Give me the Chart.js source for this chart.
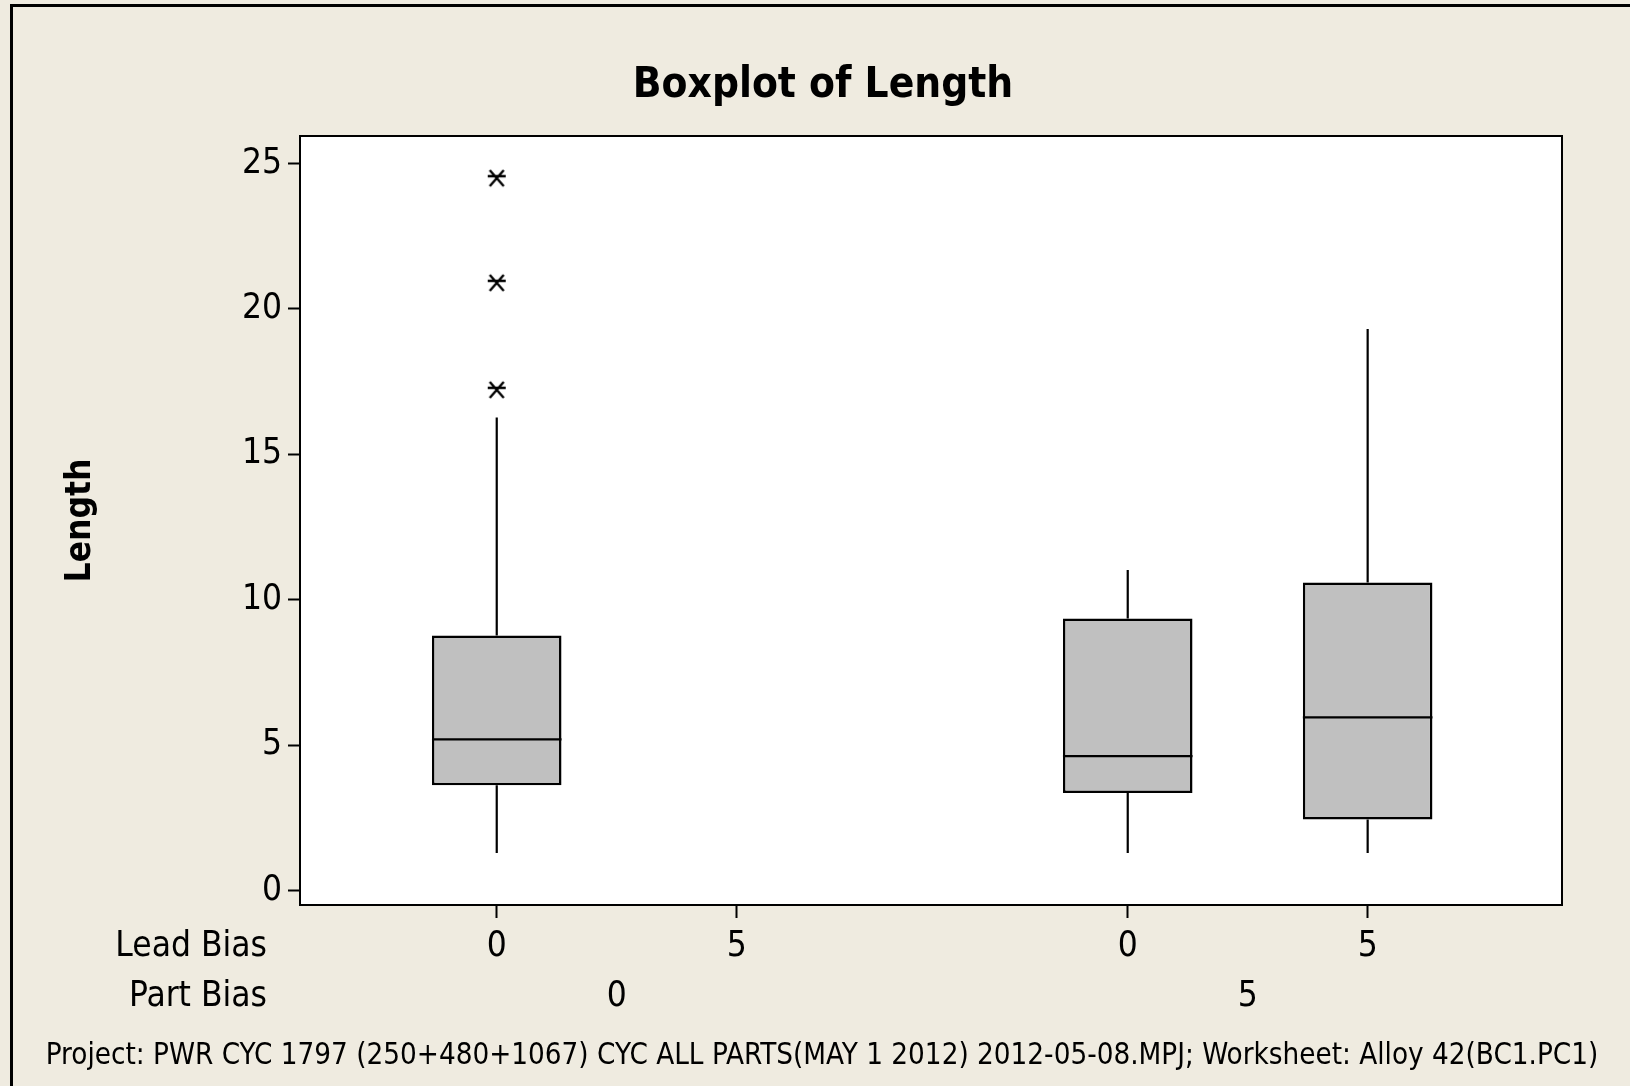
<!DOCTYPE html>
<html>
<head>
<meta charset="utf-8">
<title>Boxplot of Length</title>
<script src="https://cdn.jsdelivr.net/npm/chart.js@4.4.1/dist/chart.umd.min.js"></script>
<style>
  html, body { margin: 0; padding: 0; background: #EFEBE0; }
  canvas { display: block; }
</style>
</head>
<body>
<canvas id="boxplot" width="1630" height="1086"></canvas>
<script>
// data
const partBias = ["0", "5"];
const leadBias = ["0", "5"];
const whiskerLow = [1.29, null, 1.29, 1.29];
const q1 = [3.62, null, 3.35, 2.44];
const median = [5.20, null, 4.62, 5.95];
const q3 = [8.77, null, 9.35, 10.59];
const whiskerHigh = [16.27, null, 11.02, 19.31];
const outliers = [[24.50, 20.90, 17.22], [], [], []];
const yTicks = [0, 5, 10, 15, 20, 25];

const FONTE = '"DejaVu Sans Condensed", "DejaVu Sans", sans-serif';
const CHART = document.querySelector("#boxplot");

// x position of each box: groups of lead bias inside part bias, with a gap between groups
const groupGap = 0.63;
const boxWidth = 0.54;
const positions = [];
const leadLabels = [];
partBias.forEach((p, gi) => {
  leadBias.forEach((l, li) => {
    positions.push(gi * (leadBias.length + groupGap) + li + 1);
    leadLabels.push(l);
  });
});
const partCenters = partBias.map((p, gi) => {
  const ps = positions.slice(gi * leadBias.length, (gi + 1) * leadBias.length);
  return (ps[0] + ps[ps.length - 1]) / 2;
});

// boxes, whiskers, medians
const boxData = [];
const whiskerData = [];
const medianData = [];
const outlierData = [];
positions.forEach((x, i) => {
  outliers[i].forEach((v) => outlierData.push({ x: x, y: v }));
  if (q1[i] === null) return;
  boxData.push({ x: x, y: [q1[i], q3[i]] });
  whiskerData.push({ x: x, y: q3[i] }, { x: x, y: whiskerHigh[i] }, { x: x, y: null });
  whiskerData.push({ x: x, y: q1[i] }, { x: x, y: whiskerLow[i] }, { x: x, y: null });
  medianData.push({ x: x - boxWidth / 2, y: median[i] }, { x: x + boxWidth / 2, y: median[i] }, { x: x, y: null });
});

// minitab style asterisk
const estrela = document.createElement("canvas");
estrela.width = 20;
estrela.height = 20;
(function () {
  const c = estrela.getContext("2d");
  c.strokeStyle = "#000";
  c.lineWidth = 2.4;
  c.beginPath();
  c.moveTo(3, 2); c.lineTo(17, 18);
  c.moveTo(17, 2); c.lineTo(3, 18);
  c.moveTo(1, 8); c.lineTo(19, 8);
  c.stroke();
})();

const fundo = {
  id: "fundo",
  beforeDraw(chart) {
    const { ctx, chartArea: a } = chart;
    ctx.save();
    ctx.fillStyle = "#EFEBE0";
    ctx.fillRect(0, 0, chart.width, chart.height);
    ctx.fillStyle = "#FFFFFF";
    ctx.fillRect(a.left, a.top, a.right - a.left, a.bottom - a.top);
    ctx.fillStyle = "#000";
    ctx.fillRect(10, 4, chart.width - 10, 3);
    ctx.fillRect(10, 4, 3, chart.height - 4);
    ctx.restore();
  },
  afterDraw(chart) {
    const { ctx, chartArea: a } = chart;
    const xs = chart.scales.x;
    ctx.save();
    ctx.strokeStyle = "#000";
    ctx.lineWidth = 2;
    ctx.strokeRect(a.left, a.top, a.right - a.left, a.bottom - a.top);

    ctx.fillStyle = "#000";
    ctx.textBaseline = "middle";
    ctx.textAlign = "center";
    ctx.font = "bold 42px " + FONTE;
    ctx.fillText("Boxplot of Length", 823, 86);

    ctx.font = "35px " + FONTE;
    const rowLead = xs.top + 42;
    const rowPart = rowLead + 50;
    partCenters.forEach((c, i) => ctx.fillText(partBias[i], xs.getPixelForValue(c), rowPart));
    ctx.textAlign = "right";
    ctx.fillText("Lead Bias", 267, rowLead);
    ctx.fillText("Part Bias", 267, rowPart);

    ctx.textAlign = "center";
    ctx.font = "29.3px " + FONTE;
    ctx.fillText("Project: PWR CYC 1797 (250+480+1067) CYC ALL PARTS(MAY 1 2012) 2012-05-08.MPJ; Worksheet: Alloy 42(BC1.PC1)", 822, 1056);
    ctx.restore();
  },
};

Chart.defaults.font.family = FONTE;
Chart.defaults.color = "#000";

let boxplot = new Chart(CHART, {
  type: "bar",
  data: {
    datasets: [
      {
        type: "line",
        data: medianData,
        borderColor: "#000",
        borderWidth: 2.2,
        pointRadius: 0,
        spanGaps: false,
        order: 0,
      },
      {
        type: "line",
        data: whiskerData,
        borderColor: "#000",
        borderWidth: 2.2,
        pointRadius: 0,
        spanGaps: false,
        order: 2,
      },
      {
        type: "scatter",
        data: outlierData,
        pointStyle: estrela,
        order: 0,
      },
      {
        type: "bar",
        data: boxData,
        backgroundColor: "#C0C0C0",
        borderColor: "#000",
        borderWidth: 2.5,
        borderSkipped: false,
        categoryPercentage: 1,
        barPercentage: boxWidth,
        order: 1,
      },
    ],
  },
  options: {
    responsive: false,
    animation: false,
    layout: { padding: { top: 136, right: 68, bottom: 0, left: 0 } },
    plugins: {
      legend: { display: false },
      tooltip: { enabled: false },
    },
    scales: {
      x: {
        type: "linear",
        offset: false,
        min: positions[0] - 0.82,
        max: positions[positions.length - 1] + 0.81,
        afterBuildTicks: (scale) => {
          scale.ticks = positions.map((v) => ({ value: v }));
        },
        afterFit: (scale) => {
          scale.height = 181;
        },
        ticks: {
          font: { size: 35 },
          padding: 8,
          maxRotation: 0,
          autoSkip: false,
          callback: (value, index) => leadLabels[index],
        },
        grid: {
          offset: false,
          drawOnChartArea: false,
          tickLength: 13,
          tickWidth: 2,
          tickColor: "#000",
        },
        border: { display: false },
      },
      y: {
        min: -0.5,
        max: 25.95,
        afterBuildTicks: (scale) => {
          scale.ticks = yTicks.map((v) => ({ value: v }));
        },
        afterFit: (scale) => {
          scale.width = 300;
        },
        ticks: {
          font: { size: 35 },
          padding: 6,
        },
        grid: {
          drawOnChartArea: false,
          tickLength: 12,
          tickWidth: 2,
          tickColor: "#000",
        },
        border: { display: false },
        title: {
          display: true,
          text: "Length",
          font: { size: 35, weight: "bold" },
          padding: { top: 60, bottom: 0 },
        },
      },
    },
  },
  plugins: [fundo],
});
</script>
</body>
</html>
